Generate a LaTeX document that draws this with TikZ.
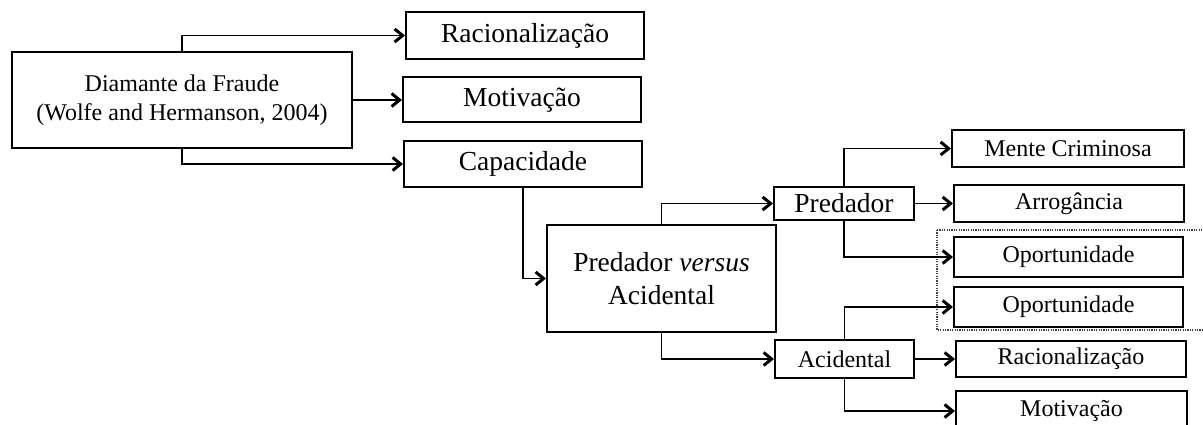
\documentclass[tikz,border=0pt]{standalone}
\usepackage{fontspec}
\setmainfont{Liberation Serif}
\usetikzlibrary{arrows.meta}
\tikzset{
  box/.style={draw, line width=2pt, inner sep=0pt, align=center},
  big/.style={font=\fontsize{27.5}{33}\selectfont},
  small/.style={font=\fontsize{24}{29}\selectfont},
  link/.style={line width=1.9pt, -{Straight Barb[length=8pt,width=13pt,line width=3pt]}},
  group/.style={draw=black!75, line width=1.2pt, dash pattern=on 1.2pt off 1.2pt}
}
\newcommand{\boxat}[6]{% name, cx, cy, width, height, style + text
  \node[box, #6, minimum width=#4pt, minimum height=#5pt] (#1) at (#2,#3)}
\begin{document}
\begin{tikzpicture}[x=1pt,y=-1pt]
\useasboundingbox (0,0) rectangle (1203,425);

% first level
\boxat{dia}{182}{100}{340}{96}{small}{Diamante da Fraude\\(Wolfe and Hermanson, 2004)};
\boxat{rac1}{525}{35.5}{238}{47}{big}{Racionalização};
\boxat{mot1}{522}{100}{238}{45}{big}{Motivação};
\boxat{cap}{523}{164}{238}{46}{big}{Capacidade};

% second level
\boxat{pva}{661.5}{278.5}{229}{107}{big}{Predador \textit{versus}\\Acidental};
\boxat{pred}{844}{203.5}{140}{33}{big}{Predador};
\boxat{acid}{844.5}{359}{139}{38}{small}{Acidental};

% third level
\boxat{mente}{1068}{148.5}{232}{37}{small}{Mente Criminosa};
\boxat{arro}{1069}{203.5}{230}{37}{small}{Arrogância};
\boxat{opo1}{1068.5}{257}{229}{40}{small}{Oportunidade};
\boxat{opo2}{1068.5}{307}{229}{40}{small}{Oportunidade};
\boxat{rac2}{1071}{359}{230}{36}{small}{Racionalização};
\boxat{mot2}{1071.5}{411}{231}{40}{small}{Motivação};

% shared opportunity frame
\draw[group] (937,230) rectangle (1206,330);

% connectors
\draw[link] (dia.north) |- (rac1.west);
\draw[link] (dia.east) -- (mot1.west);
\draw[link] (dia.south) |- (cap.west);
\draw[link] (cap.south) |- (pva.west);
\draw[link] (pva.north) |- (pred.west);
\draw[link] (pva.south) |- (acid.west);
\draw[link] (pred.north) |- (mente.west);
\draw[link] (pred.east) -- (arro.west);
\draw[link] (pred.south) |- (opo1.west);
\draw[link] (acid.north) |- (opo2.west);
\draw[link] (acid.east) -- (rac2.west);
\draw[link] (acid.south) |- (mot2.west);
\end{tikzpicture}
\end{document}
